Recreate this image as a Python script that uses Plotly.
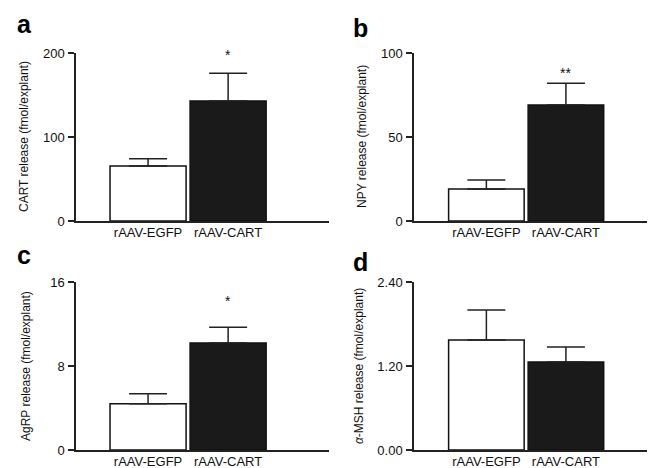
import plotly.graph_objects as go

categories = ["rAAV-EGFP", "rAAV-CART"]

cart_mean = [65.5, 143.0]
cart_err = [8.5, 33.0]
npy_mean = [19.0, 69.0]
npy_err = [5.4, 13.0]
agrp_mean = [4.4, 10.2]
agrp_err = [0.95, 1.5]
msh_mean = [1.57, 1.257]
msh_err = [0.43, 0.214]

cart_ticks = [0, 100, 200]
npy_ticks = [0, 50, 100]
agrp_ticks = [0, 8, 16]
msh_ticks = [0.0, 1.2, 2.4]

cart_sig = ["", "*"]
npy_sig = ["", "**"]
agrp_sig = ["", "*"]
msh_sig = ["", ""]

panel_letters = ["a", "b", "c", "d"]
y_titles = ["CART release (fmol/explant)", "NPY release (fmol/explant)",
            "AgRP release (fmol/explant)", "<i>α</i>-MSH release (fmol/explant)"]

# page is offset by the default 8px body margin
OFF = 8
W, H = 655 - OFF, 468 - OFF
FONT = "Liberation Sans, Arial, Helvetica, sans-serif"

panels = [
    dict(mean=cart_mean, err=cart_err, ticks=cart_ticks, sig=cart_sig, fmt="d",
         x0=76, x1=329, ytop=53, ybot=221, xr=[-0.9, 2.26], sig_off=0.11,
         letter_xy=(24, 24), title_x=24),
    dict(mean=npy_mean, err=npy_err, ticks=npy_ticks, sig=npy_sig, fmt="d",
         x0=414, x1=655, ytop=53, ybot=221, xr=[-0.91, 2.12], sig_off=0.06,
         letter_xy=(360, 28), title_x=362),
    dict(mean=agrp_mean, err=agrp_err, ticks=agrp_ticks, sig=agrp_sig, fmt="d",
         x0=76, x1=329, ytop=282, ybot=450, xr=[-0.9, 2.26], sig_off=0.155,
         letter_xy=(24, 255), title_x=26),
    dict(mean=msh_mean, err=msh_err, ticks=msh_ticks, sig=msh_sig, fmt=".2f",
         x0=414, x1=655, ytop=282, ybot=450, xr=[-0.91, 2.12], sig_off=0.1,
         letter_xy=(360, 262), title_x=359),
]


def px_x(v):
    return (v - OFF) / W


def px_y(v):
    return 1 - (v - OFF) / H


fig = go.Figure()
annotations = []
layout = {}

for i, p in enumerate(panels):
    n = "" if i == 0 else str(i + 1)
    xa, ya = "x" + n, "y" + n
    fig.add_trace(go.Bar(
        x=categories, y=p["mean"], xaxis=xa, yaxis=ya,
        marker=dict(color=["white", "#1a1a1a"], line=dict(color="#111111", width=1.5)),
        error_y=dict(type="data", array=p["err"], arrayminus=[0, 0], symmetric=False,
                     color="#222222", thickness=1.5, width=19),
        width=0.95, showlegend=False, hoverinfo="skip",
    ))
    ymax = p["ticks"][-1]
    layout["xaxis" + n] = dict(
        domain=[px_x(p["x0"]), min(1.0, px_x(p["x1"]))], anchor=ya, range=p["xr"],
        showline=True, linecolor="#222222", linewidth=1.5, ticks="",
        showgrid=False, zeroline=False, fixedrange=True, automargin=False,
        ticklabelstandoff=-1,
        tickfont=dict(family=FONT, size=13, color="#111111"),
    )
    layout["yaxis" + n] = dict(
        domain=[px_y(p["ybot"]), px_y(p["ytop"])], anchor=xa, range=[0, ymax],
        showline=True, linecolor="#222222", linewidth=1.5, ticks="outside",
        ticklen=6, tickwidth=1.5, tickcolor="#222222", automargin=False,
        ticklabelstandoff=1,
        tickvals=p["ticks"], tickformat=p["fmt"], showgrid=False, zeroline=False,
        tickfont=dict(family=FONT, size=13, color="#111111"),
    )
    for j, s in enumerate(p["sig"]):
        if s:
            annotations.append(dict(
                x=categories[j], y=p["mean"][j] + p["err"][j] + p["sig_off"] * ymax,
                xref=xa, yref=ya, text=s, showarrow=False,
                font=dict(family=FONT, size=14, color="#111111"), yanchor="middle"))
    lx, ly = p["letter_xy"]
    annotations.append(dict(
        x=px_x(lx), y=px_y(ly), xref="paper", yref="paper", text="<b>%s</b>" % panel_letters[i],
        showarrow=False, font=dict(family=FONT, size=25, color="#000000"),
        xanchor="center", yanchor="middle"))
    annotations.append(dict(
        x=px_x(p["title_x"]), y=px_y((p["ytop"] + p["ybot"]) / 2), xref="paper", yref="paper",
        text=y_titles[i], textangle=-90, showarrow=False,
        font=dict(family=FONT, size=12, color="#111111"),
        xanchor="center", yanchor="middle"))

fig.update_layout(
    width=W, height=H, margin=dict(l=0, r=0, t=0, b=0, autoexpand=False),
    paper_bgcolor="white", plot_bgcolor="white",
    annotations=annotations, bargap=0.05,
    **layout,
)

fig.write_html("out.html")
